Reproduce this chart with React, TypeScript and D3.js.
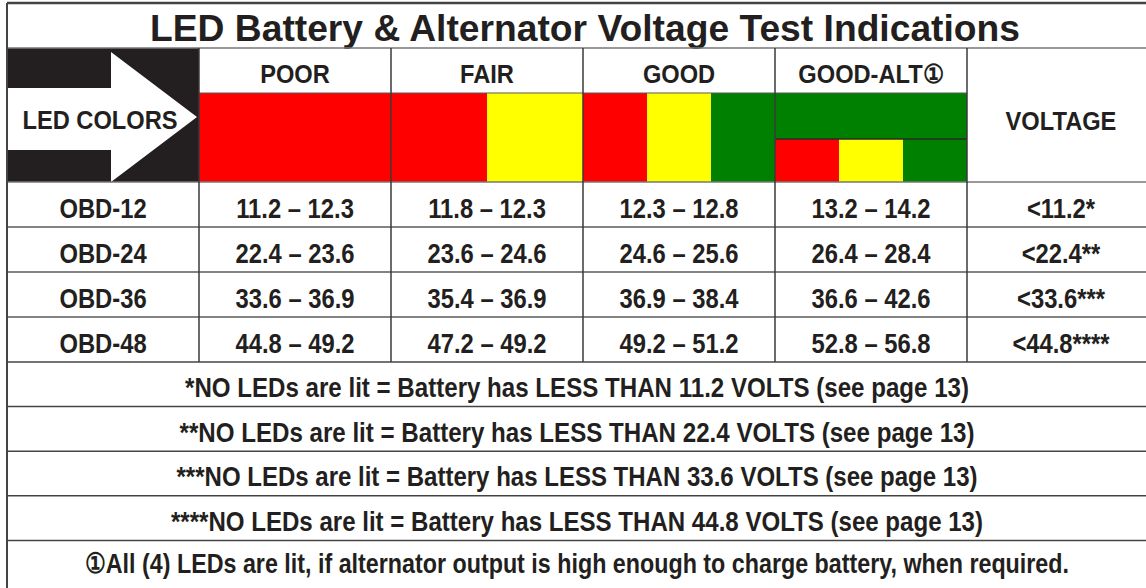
import * as React from "react";
import * as d3 from "d3";

const title = "LED Battery & Alternator Voltage Test Indications";
const levels = ["POOR", "FAIR", "GOOD", "GOOD-ALT①"];
const models = ["OBD-12", "OBD-24", "OBD-36", "OBD-48"];
const poorRange = ["11.2 – 12.3", "22.4 – 23.6", "33.6 – 36.9", "44.8 – 49.2"];
const fairRange = ["11.8 – 12.3", "23.6 – 24.6", "35.4 – 36.9", "47.2 – 49.2"];
const goodRange = ["12.3 – 12.8", "24.6 – 25.6", "36.9 – 38.4", "49.2 – 51.2"];
const goodAltRange = ["13.2 – 14.2", "26.4 – 28.4", "36.6 – 42.6", "52.8 – 56.8"];
const lowVoltage = ["<11.2*", "<22.4**", "<33.6***", "<44.8****"];
const footnotes = [
  "*NO LEDs are lit = Battery has LESS THAN 11.2 VOLTS (see page 13)",
  "**NO LEDs are lit = Battery has LESS THAN 22.4 VOLTS (see page 13)",
  "***NO LEDs are lit = Battery has LESS THAN 33.6 VOLTS (see page 13)",
  "****NO LEDs are lit = Battery has LESS THAN 44.8 VOLTS (see page 13)",
  "①All (4) LEDs are lit, if alternator output is high enough to charge battery, when required.",
];
// lit LEDs per level (GOOD-ALT: top strip all green, bottom strip R/Y/G)
const poorLeds = ["R"];
const fairLeds = ["R", "Y"];
const goodLeds = ["R", "Y", "G"];
const altTopLeds = ["G"];
const altBottomLeds = ["R", "Y", "G"];

const ledFill = { R: "#ff0000", Y: "#ffff00", G: "#008000" };
const ink = "#231f20";
const font = "'Liberation Sans', Arial, sans-serif";
const noteWidths = [784, 795, 801, 812, 984];
const noteSizes = [27, 27, 27, 27, 28];

const W = 1146;
const H = 588;

export default function App() {
  const left = 7;
  const top = 3;
  const titleBottom = 48;
  const headBottom = 93;
  const ledBottom = 182;
  const altSplit = 139;
  const dataBottom = 362;
  const voltRight = 1155;

  const x = d3.scaleBand<string>().domain(["label", ...levels]).range([left, 967]);
  const y = d3.scaleBand<string>().domain(models).range([ledBottom, dataBottom]);
  const yNote = d3.scaleBand<number>().domain(d3.range(footnotes.length)).range([dataBottom, dataBottom + 44.6 * 5]);
  const voltX = 967;
  const voltCx = (voltX + voltRight) / 2;

  const ranges = [poorRange, fairRange, goodRange, goodAltRange];
  const ledRows = [poorLeds, fairLeds, goodLeds];

  const segs = (leds: string[], x0: number, x1: number, y0: number, y1: number, key: string) => {
    const s = d3.scaleBand<number>().domain(d3.range(leds.length)).range([x0, x1]);
    return leds.map((c, i) => (
      <rect key={key + i} x={s(i)} y={y0} width={s.bandwidth()} height={y1 - y0} fill={ledFill[c]} />
    ));
  };

  const T = (props: { x: number; y: number; size: number; sx?: number; text: string; len?: number }) => (
    <text
      transform={`translate(${props.x},${props.y}) scale(${props.sx ?? 1},1)`}
      textAnchor="middle"
      fontFamily={font}
      fontWeight="bold"
      fontSize={props.size}
      fill={ink}
      textLength={props.len}
      lengthAdjust={props.len ? "spacingAndGlyphs" : undefined}
    >
      {props.text}
    </text>
  );

  const cx = (k: string) => (x(k) as number) + x.bandwidth() / 2;
  const labelX0 = x("label") as number;
  const labelX1 = labelX0 + x.bandwidth();
  const shaftTop = 88;
  const shaftBot = 150;
  const headX = 111;
  const arrow = d3.line()([
    [labelX0, shaftTop],
    [headX, shaftTop],
    [headX, 52],
    [labelX1 - 2, (titleBottom + ledBottom) / 2 + 2],
    [headX, ledBottom],
    [headX, shaftBot],
    [labelX0, shaftBot],
  ]) + "Z";

  const line = "#5a5a5a";
  const altX0 = x(levels[3]) as number;

  return (
    <svg width={W} height={H} style={{ position: "absolute", left: 0, top: 0, background: "#fff" }}>
      <rect x={0} y={0} width={W} height={H} fill="#fff" />
      {/* title */}
      <T x={585} y={41} size={37} text={title} len={870} />

      {/* LED COLORS arrow */}
      <rect x={labelX0} y={titleBottom} width={x.bandwidth()} height={ledBottom - titleBottom} fill={ink} />
      <path d={arrow} fill="#fff" />
      <T x={100} y={129} size={26} sx={0.91} text="LED COLORS" />

      {/* level headers and LEDs */}
      {levels.map((lv) => (
        <T key={lv} x={cx(lv)} y={83} size={26} sx={0.91} text={lv} />
      ))}
      {ledRows.map((r, i) =>
        segs(r, x(levels[i]) as number, (x(levels[i]) as number) + x.bandwidth(), headBottom, ledBottom, "l" + i)
      )}
      {segs(altTopLeds, altX0, altX0 + x.bandwidth(), headBottom, altSplit, "at")}
      {segs(altBottomLeds, altX0, altX0 + x.bandwidth(), altSplit, ledBottom, "ab")}
      <line x1={altX0} x2={voltX} y1={altSplit} y2={altSplit} stroke="#2a2a2a" strokeWidth={1.5} />
      <T x={voltCx} y={130} size={26} sx={0.91} text="VOLTAGE" />

      {/* data rows */}
      {models.map((m, r) => (
        <g key={m}>
          <T x={cx("label")} y={(y(m) as number) + 36} size={28} sx={0.85} text={m} />
          {ranges.map((col, c) => (
            <T key={c} x={cx(levels[c])} y={(y(m) as number) + 36} size={28} sx={0.85} text={col[r]} />
          ))}
          <T x={voltCx} y={(y(m) as number) + 36} size={28} sx={0.85} text={lowVoltage[r]} />
        </g>
      ))}

      {/* footnotes */}
      {footnotes.map((n, i) => (
        <T
          key={i}
          x={(left + voltRight) / 2 - 4}
          y={(yNote(i) as number) + (i === footnotes.length - 1 ? 33 : 35)}
          size={noteSizes[i]}
          text={n}
          len={noteWidths[i]}
        />
      ))}

      {/* grid */}
      <g fill="none">
        <line x1={left} x2={W} y1={top} y2={top} stroke="#444" strokeWidth={2.5} />
        <line x1={left} x2={W} y1={titleBottom} y2={titleBottom} stroke="#777" strokeWidth={1.5} />
        <line x1={x(levels[0])} x2={voltX} y1={headBottom} y2={headBottom} stroke={line} strokeWidth={1.2} />
        <line x1={left} x2={W} y1={ledBottom} y2={ledBottom} stroke="#777" strokeWidth={1.5} />
        {models.slice(1).map((m) => (
          <line key={m} x1={left} x2={W} y1={y(m)} y2={y(m)} stroke={line} strokeWidth={1.5} />
        ))}
        {d3.range(footnotes.length).map((i) => (
          <line key={i} x1={left} x2={W} y1={yNote(i)} y2={yNote(i)} stroke="#444" strokeWidth={1.5} />
        ))}
        {levels.map((lv) => (
          <line key={lv} x1={x(lv)} x2={x(lv)} y1={titleBottom} y2={dataBottom} stroke="#3a3a3a" strokeWidth={1.5} />
        ))}
        <line x1={voltX} x2={voltX} y1={titleBottom} y2={dataBottom} stroke="#3a3a3a" strokeWidth={1.5} />
        <line x1={left} x2={left} y1={top} y2={H} stroke="#444" strokeWidth={2} />
      </g>
    </svg>
  );
}
